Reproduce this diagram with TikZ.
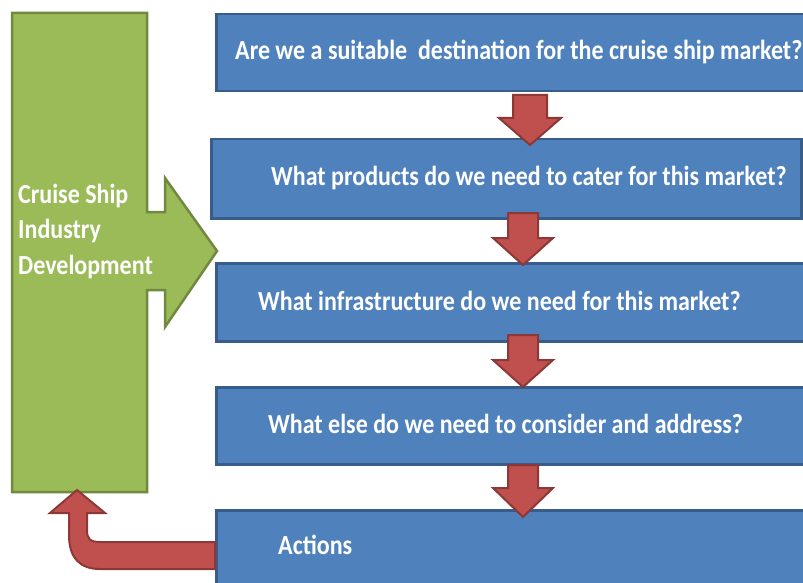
\documentclass[tikz,border=0pt]{standalone}
\usepackage{fontspec}
\setmainfont{Carlito}
\newfontfamily\tallfont[FakeStretch=0.87]{Carlito}
\tikzset{
  bluebox/.style={draw=boxedge, fill=boxfill, line width=2.5pt, rectangle, inner sep=0pt},
  greenshape/.style={draw=greenedge, fill=greenfill, line width=2.5pt, line join=miter},
  redshape/.style={draw=rededge, fill=redfill, line width=2pt, line join=miter},
  boxtext/.style={text=white, font=\tallfont\fontsize{27.6}{35.5}\selectfont\bfseries, inner sep=0pt, anchor=west, align=left},
}
\definecolor{boxfill}{HTML}{4F81BD}
\definecolor{boxedge}{HTML}{385D8A}
\definecolor{greenfill}{HTML}{9BBB59}
\definecolor{greenedge}{HTML}{71893F}
\definecolor{redfill}{HTML}{C0504D}
\definecolor{rededge}{HTML}{8C3836}
\begin{document}
\begin{tikzpicture}[x=1pt,y=-1pt]
\clip (0,0) rectangle (803,583);
\fill[white] (0,0) rectangle (803,583);
% green development shape
\draw[greenshape] (12,13) -- (147,13) -- (147,212) -- (165,212) -- (165,178) -- (217,251)
  -- (165,327) -- (165,290) -- (147,290) -- (147,492) -- (12,492) -- cycle;
\node[boxtext] (dev) at (18,231) {Cruise Ship\\Industry\\Development};
% blue boxes
\node[bluebox, anchor=north west, minimum width=600pt, minimum height=77pt] (b1) at (215,13) {};
\node[bluebox, anchor=north west, minimum width=590pt, minimum height=79pt] (b2) at (210,138) {};
\node[bluebox, anchor=north west, minimum width=600pt, minimum height=78pt] (b3) at (215,262) {};
\node[bluebox, anchor=north west, minimum width=600pt, minimum height=77pt] (b4) at (215,386) {};
\node[bluebox, anchor=north west, minimum width=600pt, minimum height=90pt] (b5) at (215,509) {};
\node[boxtext] (t1) at (235,52) {Are we a suitable~ destination for the cruise ship market?};
\node[boxtext] (t2) at (271,178) {What products do we need to cater for this market?};
\node[boxtext] (t3) at (258,301) {What infrastructure do we need for this market?};
\node[boxtext] (t4) at (268,424) {What else do we need to consider and address?};
\node[boxtext] (t5) at (278,545) {Actions};
% red down arrows between the boxes
\foreach \c/\h/\H/\ytop/\yh/\ytip in {530/17/31/95/118/145, 523/15/30/213/238/265, 523/15/30/335/360/387, 523/15/30/465/488/517}{
  \draw[redshape] (\c-\h,\ytop) -- (\c+\h,\ytop) -- (\c+\h,\yh) -- (\c+\H,\yh) -- (\c,\ytip)
    -- (\c-\H,\yh) -- (\c-\h,\yh) -- cycle;
}
% bent-up return arrow from Actions to the green shape
\draw[redshape] (215,542) -- (100,542) .. controls (90,542) and (87,539) .. (87,530)
  -- (87,513) -- (105,513) -- (77,490) -- (50,513) -- (69,513) -- (69,535)
  .. controls (69,558) and (80,569) .. (100,569) -- (215,569) -- cycle;
\end{tikzpicture}
\end{document}
